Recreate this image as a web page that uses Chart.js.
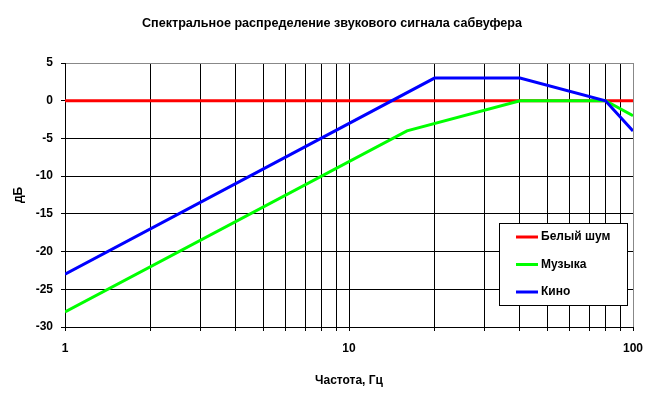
<!DOCTYPE html>
<html>
<head>
<meta charset="utf-8">
<script src="https://cdn.jsdelivr.net/npm/chart.js@4/dist/chart.umd.min.js"></script>
<style>
  body { margin: 0; background: #fff; }
  #grafico { display: block; }
</style>
</head>
<body>
<canvas id="grafico" width="662" height="394"></canvas>
<script>
// Datos
const titulo = 'Спектральное распределение звукового сигнала сабвуфера';
const tituloX = 'Частота, Гц';
const tituloY = 'дБ';

const nombresSeries = ['Белый шум', 'Музыка', 'Кино'];
const coloresSeries = ['#ff0000', '#00ff00', '#0000ff'];

const frecRuido = [1, 100];
const valRuido = [0, 0];
const frecMusica = [1, 16, 40, 80, 100];
const valMusica = [-28, -4, 0, 0, -2];
const frecKino = [1, 20, 40, 80, 100];
const valKino = [-23, 3, 3, 0, -4];

const ticksX = [1, 2, 3, 4, 5, 6, 7, 8, 9, 10, 20, 30, 40, 50, 60, 70, 80, 90, 100];
const etiquetasX = [1, 10, 100];

const fuente = '"Liberation Sans", Arial, sans-serif';
const puntos = (xs, ys) => xs.map((x, i) => ({ x: x, y: ys[i] }));

// Título centrado como en el original (algo a la derecha del centro del lienzo)
const tituloGrafico = {
    id: 'tituloGrafico',
    afterDraw(chart) {
        const ctx = chart.ctx;
        ctx.save();
        ctx.font = 'bold 12.6px ' + fuente;
        ctx.fillStyle = '#000';
        ctx.textAlign = 'center';
        ctx.textBaseline = 'middle';
        ctx.fillText(titulo, 332, 24);
        ctx.restore();
    }
};

// Leyenda dibujada dentro del área (abajo a la derecha)
const leyendaInterior = {
    id: 'leyendaInterior',
    afterDraw(chart) {
        const ctx = chart.ctx;
        const x0 = 499.5, y0 = 223.5, w = 128, h = 82;
        ctx.save();
        ctx.fillStyle = '#fff';
        ctx.fillRect(x0, y0, w, h);
        ctx.strokeStyle = '#000';
        ctx.lineWidth = 1;
        ctx.strokeRect(x0, y0, w, h);
        ctx.font = 'bold 12px ' + fuente;
        ctx.textBaseline = 'middle';
        chart.data.datasets.forEach((ds, i) => {
            const y = 237 + i * 27.5;
            ctx.strokeStyle = ds.borderColor;
            ctx.lineWidth = 3;
            ctx.beginPath();
            ctx.moveTo(516, y);
            ctx.lineTo(538, y);
            ctx.stroke();
            ctx.fillStyle = '#000';
            ctx.fillText(ds.label, 541, y);
        });
        ctx.restore();
    }
};

new Chart(document.getElementById('grafico').getContext('2d'), {
    type: 'line',
    data: {
        datasets: [
            { label: nombresSeries[0], data: puntos(frecRuido, valRuido), borderColor: coloresSeries[0], order: 3 },
            { label: nombresSeries[1], data: puntos(frecMusica, valMusica), borderColor: coloresSeries[1], order: 2 },
            { label: nombresSeries[2], data: puntos(frecKino, valKino), borderColor: coloresSeries[2], order: 1 }
        ]
    },
    options: {
        responsive: false,
        animation: false,
        layout: { padding: { left: 7, right: 29, top: 63, bottom: 2 } },
        elements: {
            line: { borderWidth: 3, tension: 0 },
            point: { radius: 0 }
        },
        plugins: {
            legend: { display: false },
            tooltip: { enabled: false },
            title: { display: false }
        },
        scales: {
            x: {
                type: 'logarithmic',
                min: 1,
                max: 100,
                afterBuildTicks: scale => { scale.ticks = ticksX.map(v => ({ value: v })); },
                afterFit: scale => { scale.height = 65; },
                ticks: {
                    autoSkip: false,
                    maxRotation: 0,
                    padding: 10,
                    color: '#000',
                    font: { family: fuente, size: 12, weight: 'bold' },
                    callback: v => etiquetasX.includes(v) ? String(v) : ''
                },
                grid: {
                    color: c => c.tick && c.tick.value === 100 ? '#888' : '#000',
                    tickColor: '#000',
                    tickLength: 4,
                    lineWidth: 1
                },
                border: { color: '#000', width: 1 },
                title: {
                    display: true,
                    text: tituloX,
                    color: '#000',
                    font: { family: fuente, size: 12, weight: 'bold' }
                }
            },
            y: {
                min: -30,
                max: 5,
                afterFit: scale => { scale.width = 58; },
                ticks: {
                    stepSize: 5,
                    padding: 8,
                    color: '#000',
                    font: { family: fuente, size: 12, weight: 'bold' }
                },
                grid: {
                    color: c => c.tick && c.tick.value === 5 ? '#888' : '#000',
                    tickColor: '#000',
                    tickLength: 4,
                    lineWidth: 1
                },
                border: { color: '#000', width: 1 },
                title: {
                    display: true,
                    text: tituloY,
                    color: '#000',
                    font: { family: fuente, size: 12, weight: 'bold' }
                }
            }
        }
    },
    plugins: [tituloGrafico, leyendaInterior]
});
</script>
</body>
</html>
